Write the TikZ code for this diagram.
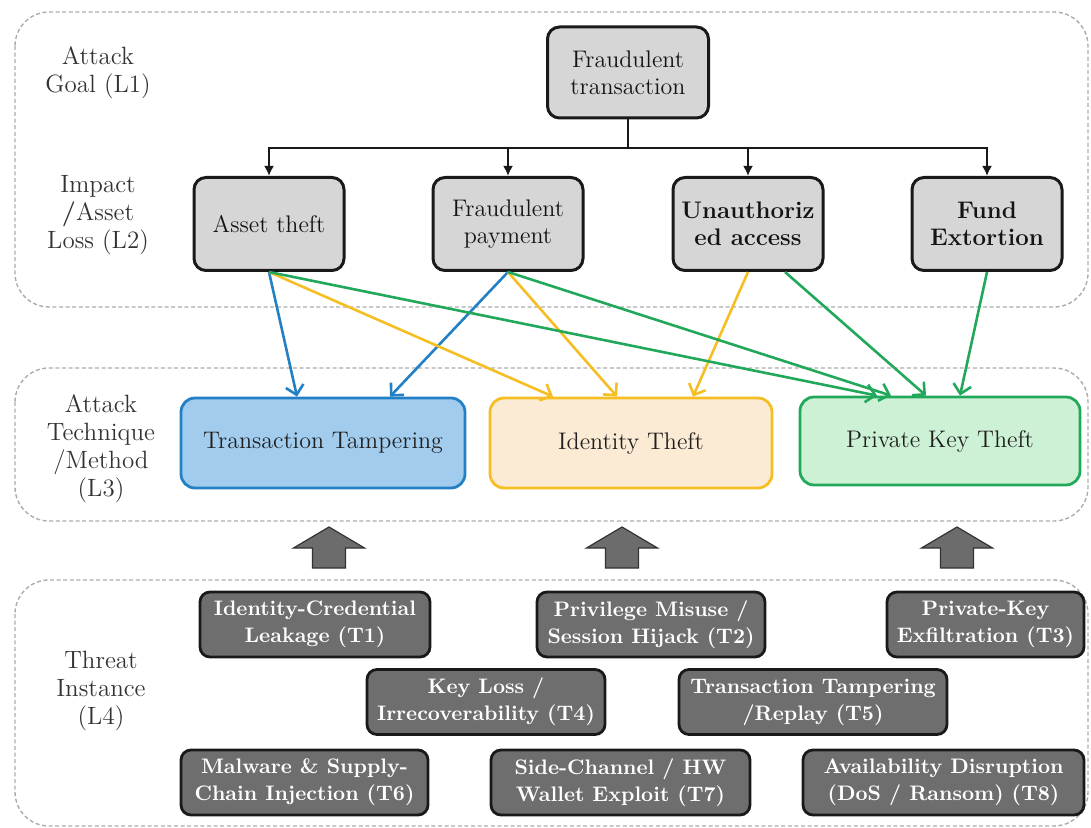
\documentclass[tikz,border=0pt]{standalone}
\usepackage{xcolor}
\usepackage{tikz}
\usetikzlibrary{arrows.meta, positioning, calc}

\definecolor{boxgray}{HTML}{D6D6D6}
\definecolor{threatgray}{HTML}{6E6E6E}
\definecolor{tampline}{HTML}{2380C4}
\definecolor{tampfill}{HTML}{A2CCEE}
\definecolor{idline}{HTML}{F5BE22}
\definecolor{idfill}{HTML}{FCEBD4}
\definecolor{keyline}{HTML}{22A85A}
\definecolor{keyfill}{HTML}{CDF1D5}

\begin{document}
\begin{tikzpicture}[
    x=0.5pt, y=-0.5pt,
    every node/.style={font=\fontsize{12}{13.5}\selectfont},
    layer/.style={draw=gray!65, dash pattern=on 2pt off 1.3pt, line width=0.7pt, rounded corners=17pt},
    lvl/.style={align=center, text=black!80, font=\fontsize{12.5}{14}\selectfont},
    goalbox/.style={rectangle, draw=black!90, line width=1.5pt, rounded corners=6pt, fill=boxgray, align=center, text=black!92, inner sep=2pt},
    techbox/.style={rectangle, line width=1.4pt, rounded corners=7pt, align=center, text=black!88, minimum height=45pt},
    threat/.style={rectangle, draw=black!90, line width=1.4pt, rounded corners=5pt, fill=threatgray, align=center, text=white!95, inner sep=1pt, minimum height=32.5pt, font=\fontsize{10.5}{13.5}\selectfont\bfseries},
    treearrow/.style={-{Latex[length=5pt,width=5pt]}, line width=1.3pt, black!90},
    treeline/.style={line width=1.3pt, black!90},
    colarrow/.style={-{Straight Barb[length=4.5pt,width=9pt]}, line width=1.3pt},
    uparrow/.style={draw=black!80, fill=gray!85!black, line width=0.6pt, line join=miter}
]
\useasboundingbox (0,0) rectangle (1091,828);

% ── Layer frames ──
\draw[layer] (15,12) rectangle (1088,307);
\draw[layer] (15,368) rectangle (1088,521);
\draw[layer] (15,580) rectangle (1088,826);

% ── Level labels ──
\node[lvl] (lone)   at (98,73)  {Attack\\Goal (L1)};
\node[lvl] (ltwo)   at (98,215) {Impact\\\textbf{/}Asset\\Loss (L2)};
\node[lvl] (lthree) at (101,449) {Attack\\Technique\\/Method\\(L3)};
\node[lvl] (lfour)  at (101,691) {Threat\\Instance\\(L4)};

% ── L1: goal ──
\node[goalbox, minimum width=80.5pt, minimum height=45.5pt] (goal) at (628,72.5) {Fraudulent\\transaction};

% ── L2: impact ──
\node[goalbox, minimum width=75pt, minimum height=46.5pt] (asset)  at (269,224) {Asset theft};
\node[goalbox, minimum width=75pt, minimum height=46.5pt] (pay)    at (508,224) {Fraudulent\\payment};
\node[goalbox, minimum width=75pt, minimum height=46.5pt, font=\fontsize{12}{13.5}\selectfont\bfseries] (unauth) at (748,224) {Unauthoriz\\ed access};
\node[goalbox, minimum width=75pt, minimum height=46.5pt, font=\fontsize{12}{13.5}\selectfont\bfseries] (fund)   at (987,224) {Fund\\Extortion};

\coordinate (hub) at (628,148);
\draw[treeline] (goal.south) -- (hub);
\foreach \n in {asset,pay,unauth,fund}
  \draw[treearrow] (hub) -| (\n.north);

% ── L3: technique ──
\node[techbox, draw=tampline, fill=tampfill, minimum width=142pt] (tamp) at (323,443) {Transaction Tampering};
\node[techbox, draw=idline, fill=idfill, minimum width=141pt] (ident) at (631,443) {Identity Theft};
\node[techbox, draw=keyline, fill=keyfill, minimum width=140pt, minimum height=44pt] (pkey) at (940,441) {Private Key Theft};

% blue
\draw[colarrow, tampline] (asset.south) -- ([xshift=-13pt]tamp.north);
\draw[colarrow, tampline] (pay.south) -- ([xshift=33.5pt]tamp.north);
% yellow
\draw[colarrow, idline] (asset.south) -- ([xshift=-39pt]ident.north);
\draw[colarrow, idline] (pay.south) -- ([xshift=-7pt]ident.north);
\draw[colarrow, idline] (unauth.south) -- ([xshift=31pt]ident.north);
% green
\draw[colarrow, keyline] (asset.south) -- ([xshift=-31.5pt]pkey.north);
\draw[colarrow, keyline] (pay.south) -- ([xshift=-24.5pt]pkey.north);
\draw[colarrow, keyline] ([xshift=18.5pt]unauth.south) -- ([xshift=-7pt]pkey.north);
\draw[colarrow, keyline] (fund.south) -- ([xshift=10pt]pkey.north);

% ── Block arrows L4 -> L3 ──
\foreach \x in {329,622,957}
  \draw[uparrow] (\x-16.5,568) -- (\x-16.5,548) -- (\x-35.5,548) -- (\x,527)
    -- (\x+35.5,548) -- (\x+16.5,548) -- (\x+16.5,568) -- cycle;

% ── L4: threat instances ──
\node[threat, minimum width=115pt] (tone)   at (315,624.5) {Identity-Credential\\Leakage (T1)};
\node[threat, minimum width=114pt] (ttwo)   at (651,624.5) {Privilege Misuse /\\Session Hijack (T2)};
\node[threat, minimum width=98.5pt] (tthree) at (985.5,624.5) {Private-Key\\Exfiltration (T3)};
\node[threat, minimum width=119pt] (tfour)  at (486,702) {Key Loss /\\Irrecoverability (T4)};
\node[threat, minimum width=134pt] (tfive)  at (813,702) {Transaction Tampering\\/Replay (T5)};
\node[threat, minimum width=123.5pt] (tsix)   at (304.5,782.5) {Malware \& Supply-\\Chain Injection (T6)};
\node[threat, minimum width=129.5pt] (tseven) at (620.5,782.5) {Side-Channel / HW\\Wallet Exploit (T7)};
\node[threat, minimum width=140.5pt] (teight) at (943.5,782.5) {Availability Disruption\\(DoS / Ransom) (T8)};

\end{tikzpicture}
\end{document}
